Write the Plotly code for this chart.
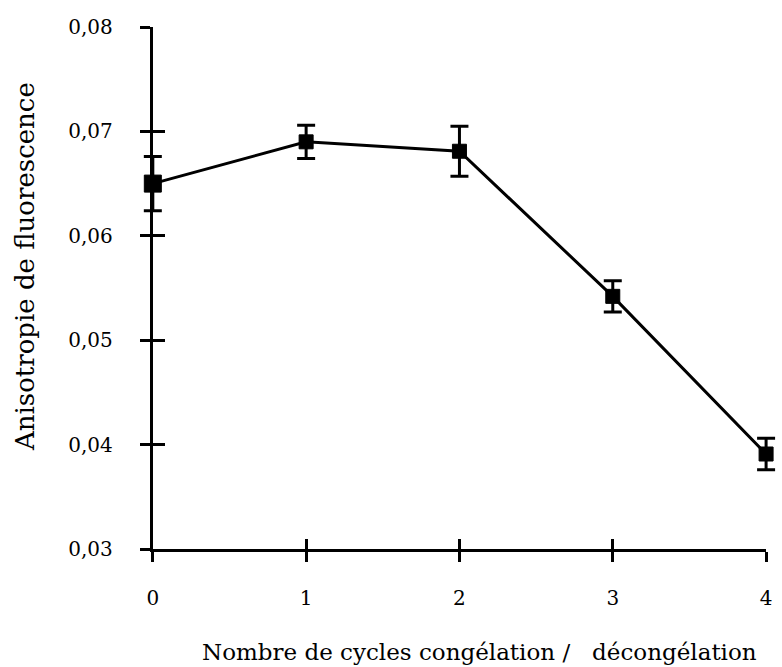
import plotly.graph_objects as go

# Fluorescence anisotropy vs number of freeze/thaw cycles
cycles = [0, 1, 2, 3, 4]
anisotropy = [0.0650, 0.0690, 0.0681, 0.0542, 0.0391]
errors = [0.0026, 0.0016, 0.0024, 0.0015, 0.0015]
marker_sizes = [17, 14, 14, 14, 14]

x_ticks = [0, 1, 2, 3, 4]
y_ticks = [0.03, 0.04, 0.05, 0.06, 0.07, 0.08]
y_tick_labels = ["0,03", "0,04", "0,05", "0,06", "0,07", "0,08"]

FONT = "DejaVu Serif"
W, H = 782, 667

# plotting area in pixels; the visible axes sit inside it with a little
# room on both sides so that end error bars are not clipped
area_left, area_right = 133, W
axis_left, axis_right = 153, 772
x_min, x_max = 0, 4
px_per_unit = (axis_right - axis_left) / (x_max - x_min)
area_w = area_right - area_left
dom = [(axis_left - area_left) / area_w, (axis_right - area_left) / area_w]
data_range = [x_min - (axis_left - area_left) / px_per_unit,
              x_max + (area_right - axis_right) / px_per_unit]

fig = go.Figure()
# invisible traces so the visible axes (outer and inner ticks) get drawn
for xa, ya in (("x", "y"), ("x2", "y2")):
    fig.add_trace(go.Scatter(x=cycles, y=anisotropy, xaxis=xa, yaxis=ya,
                             mode="markers", marker=dict(opacity=0),
                             showlegend=False, hoverinfo="skip"))

fig.add_trace(go.Scatter(
    x=cycles, y=anisotropy, xaxis="x3", yaxis="y",
    mode="lines+markers",
    line=dict(color="black", width=3),
    marker=dict(symbol="square", size=marker_sizes, color="black",
                opacity=1, line=dict(color="black", width=1)),
    error_y=dict(type="data", array=errors, visible=True,
                 color="black", thickness=3, width=9),
    cliponaxis=False,
    showlegend=False,
))

axis_common = dict(showgrid=False, zeroline=False, showline=True,
                   linecolor="black", linewidth=3,
                   tickcolor="black", tickwidth=3)

fig.update_layout(
    width=W, height=H,
    margin=dict(l=area_left, r=W - area_right, t=27, b=118),
    paper_bgcolor="white", plot_bgcolor="rgba(0,0,0,0)",
    font=dict(family=FONT, color="black", size=20),
    xaxis=dict(domain=dom, range=[x_min, x_max], tickvals=x_ticks,
               ticks="outside", ticklen=10, ticklabelstandoff=19,
               tickfont=dict(size=20), anchor="y", **axis_common),
    yaxis=dict(range=[0.03, 0.08], tickvals=y_ticks, ticktext=y_tick_labels,
               ticks="outside", ticklen=10, ticklabelstandoff=23,
               tickfont=dict(size=20), anchor="x", **axis_common),
    xaxis2=dict(domain=dom, range=[x_min, x_max], tickvals=x_ticks,
                ticks="inside", ticklen=10, overlaying="x", anchor="y2",
                showticklabels=False, showgrid=False, zeroline=False,
                showline=False, tickcolor="black", tickwidth=3),
    yaxis2=dict(range=[0.03, 0.08], tickvals=y_ticks, ticks="inside",
                ticklen=12, overlaying="y", anchor="x2",
                showticklabels=False, showgrid=False, zeroline=False,
                showline=False, tickcolor="black", tickwidth=3),
    xaxis3=dict(domain=[0, 1], range=data_range, anchor="y", visible=False,
                showgrid=False, zeroline=False),
    annotations=[
        dict(text="Nombre de cycles congélation /\u00a0\u00a0\u00a0décongélation",
             xref="paper", yref="paper", x=(483 - area_left) / area_w, y=0,
             yshift=-103, xanchor="center", yanchor="middle", showarrow=False,
             font=dict(family=FONT, size=23)),
        dict(text="Anisotropie de fluorescence",
             xref="paper", yref="paper", x=0, xshift=25 - area_left,
             y=0.5, yshift=288 - 267, xanchor="center", yanchor="middle",
             textangle=-90, showarrow=False,
             font=dict(family=FONT, size=26)),
    ],
)

fig.write_html("out.html")
